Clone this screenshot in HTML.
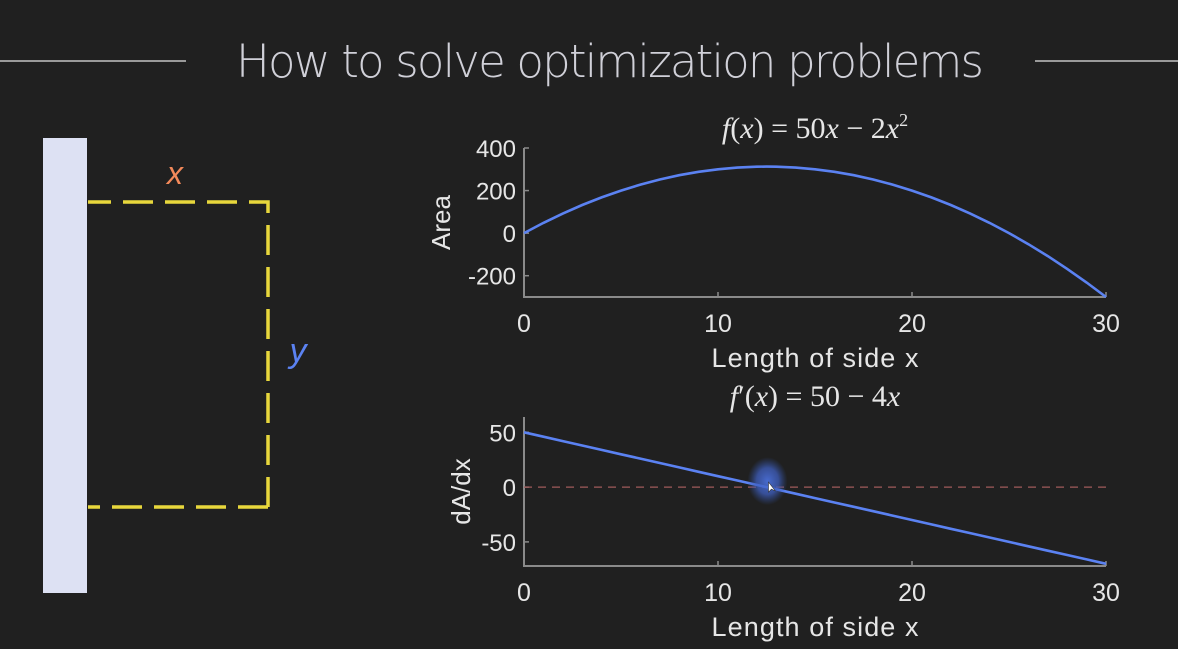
<!DOCTYPE html>
<html><head><meta charset="utf-8"><style>
html,body{margin:0;padding:0;background:#202020;width:1178px;height:649px;overflow:hidden}
svg{display:block}
text{font-family:"Liberation Sans",sans-serif}
</style></head><body>
<svg id="s" width="1178" height="649" viewBox="0 0 1178 649">
<rect width="1178" height="649" fill="#202020"/>
<line x1="0" y1="61" x2="186" y2="61" stroke="#9a9a9a" stroke-width="2"/>
<line x1="1035" y1="61" x2="1178" y2="61" stroke="#9a9a9a" stroke-width="2"/>
<text x="610" y="77" text-anchor="middle" font-size="45" fill="#d0d0d8" style="font-family:'DejaVu Sans','Liberation Sans',sans-serif;font-weight:200" textLength="748">How to solve optimization problems</text>
<rect x="43" y="138" width="44" height="455" fill="#dde1f3"/>
<path d="M88 202 H268 V507" fill="none" stroke="#e8d73c" stroke-width="3.5" stroke-dasharray="30 12" stroke-dashoffset="7"/>
<path d="M268 507 H88" fill="none" stroke="#e8d73c" stroke-width="3.5" stroke-dasharray="30 12" stroke-dashoffset="0"/>
<text x="175" y="184" text-anchor="middle" font-size="32" font-style="italic" fill="#f3895a">x</text>
<text x="298" y="362" text-anchor="middle" font-size="34" font-style="italic" fill="#5b82f2">y</text>
<defs><radialGradient id="glow"><stop offset="0" stop-color="#4a6fd8" stop-opacity="0.95"/><stop offset="0.55" stop-color="#3f5fbf" stop-opacity="0.75"/><stop offset="1" stop-color="#3050a0" stop-opacity="0"/></radialGradient></defs>
<g id="top"></g>
<g id="bot"></g>
</svg>
<script>
const xTicks=[0,10,20,30];
const topYTicks=[400,200,0,-200];
const botYTicks=[50,0,-50];
const xs=[0,1,2,3,4,5,6,7,8,9,10,11,12,12.5,13,14,15,16,17,18,19,20,21,22,23,24,25,26,27,28,29,30];
const areaVals=[0,48,92,132,168,200,228,252,272,288,300,308,312,312.5,312,308,300,288,272,252,228,200,168,132,92,48,0,-52,-108,-168,-232,-300];
const derivVals=[50,46,42,38,34,30,26,22,18,14,10,6,2,0,-2,-6,-10,-14,-18,-22,-26,-30,-34,-38,-42,-46,-50,-54,-58,-62,-66,-70];
const NS='http://www.w3.org/2000/svg';
function mk(p,t,a){const e=document.createElementNS(NS,t);for(const k in a)e.setAttribute(k,a[k]);p.appendChild(e);return e;}
function chart(g,cfg){
  const X=v=>cfg.x0+(v-0)/30*(cfg.x1-cfg.x0);
  const Y=v=>cfg.yb+(v-cfg.ymin)/(cfg.ymax-cfg.ymin)*(cfg.yt-cfg.yb);
  const ax=mk(g,'path',{d:`M${cfg.x0} ${cfg.yt} V${cfg.yb} H${cfg.x1}`,fill:'none',stroke:'#8a8a8a','stroke-width':2});
  
  
  xTicks.forEach(t=>{
    const l=mk(g,'line',{x1:X(t),x2:X(t),y1:cfg.yb,y2:cfg.yb-5,stroke:'#8a8a8a','stroke-width':1.5});
    
    
    const tx=mk(g,'text',{x:X(t),y:cfg.yb+35,'text-anchor':'middle','font-size':25,fill:'#e6e6e6'});
    tx.textContent=t;
    
    
  });
  cfg.yticks.forEach(t=>{
    const l=mk(g,'line',{x1:cfg.x0,x2:cfg.x0+5,y1:Y(t),y2:Y(t),stroke:'#8a8a8a','stroke-width':1.5});
    
    
    const tx=mk(g,'text',{x:cfg.x0-8,y:Y(t)+9,'text-anchor':'end','font-size':24,fill:'#e6e6e6'});
    tx.textContent=t;
    
    
  });
  const xl=mk(g,'text',{x:(cfg.x0+cfg.x1)/2,y:cfg.yb+70,'text-anchor':'middle','font-size':27,fill:'#e6e6e6',textLength:207});
  xl.textContent='Length of side x';
  
  
  const yl=mk(g,'text',{x:0,y:0,'text-anchor':'middle','font-size':26,fill:'#e6e6e6',transform:`translate(${cfg.ylx},${(cfg.yt+cfg.yb)/2}) rotate(-90)`});
  yl.textContent=cfg.ylabel;
  
  
  const ti=mk(g,'text',{x:(cfg.x0+cfg.x1)/2,y:cfg.titleY,'text-anchor':'middle','font-size':30,fill:'#e6e6e6',style:"font-family:'Liberation Serif',serif"});
  ti.innerHTML=cfg.title;
  
  
  if(cfg.zero){
    const z=mk(g,'line',{x1:cfg.x0,x2:cfg.x1,y1:Y(0),y2:Y(0),stroke:'#a05a5a','stroke-width':1.3,'stroke-dasharray':'8 6'});
    
    
  }
  const d=xs.map((v,i)=>(i?'L':'M')+X(v).toFixed(1)+' '+Y(cfg.vals[i]).toFixed(1)).join(' ');
  const p=mk(g,'path',{d,fill:'none',stroke:'#5b82f2','stroke-width':2.6});
  
  
  return {X,Y};
}
chart(document.getElementById('top'),{x0:524,x1:1106,yt:148,yb:297,ymin:-300,ymax:400,yticks:topYTicks,vals:areaVals,ylabel:'Area',ylx:450,titleY:138,
  title:'<tspan font-style="italic">f</tspan>(<tspan font-style="italic">x</tspan>) = 50<tspan font-style="italic">x</tspan> − 2<tspan font-style="italic">x</tspan><tspan font-size="18" dy="-12">2</tspan>'});
const b=chart(document.getElementById('bot'),{x0:524,x1:1106,yt:417,yb:566,ymin:-72,ymax:64,yticks:botYTicks,vals:derivVals,ylabel:'dA/dx',ylx:470,titleY:406,zero:true,
  title:'<tspan font-style="italic">f</tspan>′(<tspan font-style="italic">x</tspan>) = 50 − 4<tspan font-style="italic">x</tspan>'});
const gl=mk(document.getElementById('bot'),'ellipse',{cx:b.X(12.5)+1,cy:b.Y(0)-6,rx:20,ry:24,fill:'url(#glow)'});


const cur=mk(document.getElementById('bot'),'path',{d:`M${b.X(12.5)+2} ${b.Y(0)-5} l0 10 l3 -3 l4 2 z`,fill:'#fff',stroke:'#333','stroke-width':0.6});


</script>
</body></html>
